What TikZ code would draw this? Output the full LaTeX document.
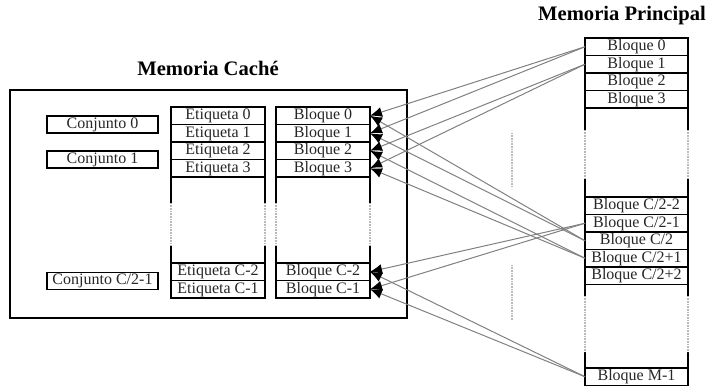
\documentclass[tikz,border=0pt]{standalone}
\usepackage{fontspec}
\setmainfont{Liberation Serif}
\usetikzlibrary{arrows.meta,positioning}

\tikzset{
  fila/.style={draw, line width=0.6pt, inner sep=0pt, outer sep=0pt,
    minimum height=8.75pt, text height=5.5pt, text depth=1.6pt,
    font=\fontsize{8}{9}\selectfont, text=black!85},
  filacache/.style={fila, minimum width=47pt},
  filamem/.style={fila, minimum width=51.5pt},
  conjunto/.style={fila, minimum width=55.5pt, minimum height=8.5pt},
  titulo/.style={font=\fontsize{10.3}{12}\selectfont\bfseries},
  conex/.style={gray, line width=0.5pt, -{Latex[black,length=6pt,width=5pt]}},
  borde/.style={line width=0.6pt},
  puntos/.style={gray!55, line width=0.6pt, dash pattern=on 0.4pt off 0.4pt}
}

\begin{document}
\begin{tikzpicture}[x=0.5pt, y=-0.5pt]
        \useasboundingbox (0,0) rectangle (706,389);

        % Titulos
        \node[titulo] (tcache) at (208,68) {Memoria Caché};
        \node[titulo] (tmem) at (622,16) {Memoria Principal};

        % Caja de la cache
        \draw[line width=1.4pt] (10,90) rectangle (407,318);

        % Conjuntos
        \node[conjunto] (c0) at (102.5,124.5) {Conjunto 0};
        \node[conjunto] (c1) at (102.5,159.5) {Conjunto 1};
        \node[conjunto] (cN) at (102.5,281) {Conjunto C/2-1};

        % Etiquetas
        \node[filacache] (e0) at (218,115.75) {Etiqueta 0};
        \node[filacache] (e1) at (218,133.25) {Etiqueta 1};
        \node[filacache] (e2) at (218,150.75) {Etiqueta 2};
        \node[filacache] (e3) at (218,168.25) {Etiqueta 3};
        \node[filacache] (eC2) at (218,271.75) {Etiqueta C-2};
        \node[filacache] (eC1) at (218,289.25) {Etiqueta C-1};

        % Bloques de la cache
        \node[filacache] (b0) at (323,115.75) {Bloque 0};
        \node[filacache] (b1) at (323,133.25) {Bloque 1};
        \node[filacache] (b2) at (323,150.75) {Bloque 2};
        \node[filacache] (b3) at (323,168.25) {Bloque 3};
        \node[filacache] (bC2) at (323,271.75) {Bloque C-2};
        \node[filacache] (bC1) at (323,289.25) {Bloque C-1};

        % Huecos de las columnas de la cache
        \draw[borde] (e3.south west) -- ++(0,26) (e3.south east) -- ++(0,26)
                     (b3.south west) -- ++(0,26) (b3.south east) -- ++(0,26);
        \draw[puntos] (171,203) -- (171,246) (265,203) -- (265,246)
                      (276,203) -- (276,246) (370,203) -- (370,246);
        \draw[borde] (eC2.north west) -- ++(0,-17) (eC2.north east) -- ++(0,-17)
                     (bC2.north west) -- ++(0,-17) (bC2.north east) -- ++(0,-17);

        % Memoria principal
        \node[filamem] (m0) at (636.5,46.75) {Bloque 0};
        \node[filamem] (m1) at (636.5,64.25) {Bloque 1};
        \node[filamem] (m2) at (636.5,81.75) {Bloque 2};
        \node[filamem] (m3) at (636.5,99.25) {Bloque 3};
        \node[filamem] (mA) at (636.5,205.75) {Bloque C/2-2};
        \node[filamem] (mB) at (636.5,223.25) {Bloque C/2-1};
        \node[filamem] (mC) at (636.5,240.75) {Bloque C/2};
        \node[filamem] (mD) at (636.5,258.25) {Bloque C/2+1};
        \node[filamem] (mE) at (636.5,275.75) {Bloque C/2+2};
        \node[filamem] (mM) at (636.5,376.75) {Bloque M-1};

        % Huecos de la memoria principal
        \draw[borde] (m3.south west) -- ++(0,22) (m3.south east) -- ++(0,22)
                     (mA.north west) -- ++(0,-18) (mA.north east) -- ++(0,-18);
        \draw[puntos] (585,130) -- (585,179) (688,130) -- (688,179);
        \draw[borde] (mE.south west) -- ++(0,12) (mE.south east) -- ++(0,12)
                     (mM.north west) -- ++(0,-16) (mM.north east) -- ++(0,-16);
        \draw[puntos] (585,296) -- (585,352) (688,296) -- (688,352);

        % Puntos intermedios
        \draw[puntos] (512,133) -- (512,187);
        \draw[puntos] (512,265) -- (512,320);

        % Correspondencias
        \draw[conex] (m0.west) -- (b0.east);
        \draw[conex] (m0.west) -- (b1.east);
        \draw[conex] (m1.west) -- (b2.east);
        \draw[conex] (m1.west) -- (b3.east);
        \draw[conex] (mB.west) -- (bC2.east);
        \draw[conex] (mB.west) -- (bC1.east);
        \draw[conex] (mC.west) -- (b0.east);
        \draw[conex] (mC.west) -- (b1.east);
        \draw[conex] (mD.west) -- (b2.east);
        \draw[conex] (mD.west) -- (b3.east);
        \draw[conex] (mM.west) -- (bC2.east);
        \draw[conex] (mM.west) -- (bC1.east);
    \end{tikzpicture}
\end{document}
